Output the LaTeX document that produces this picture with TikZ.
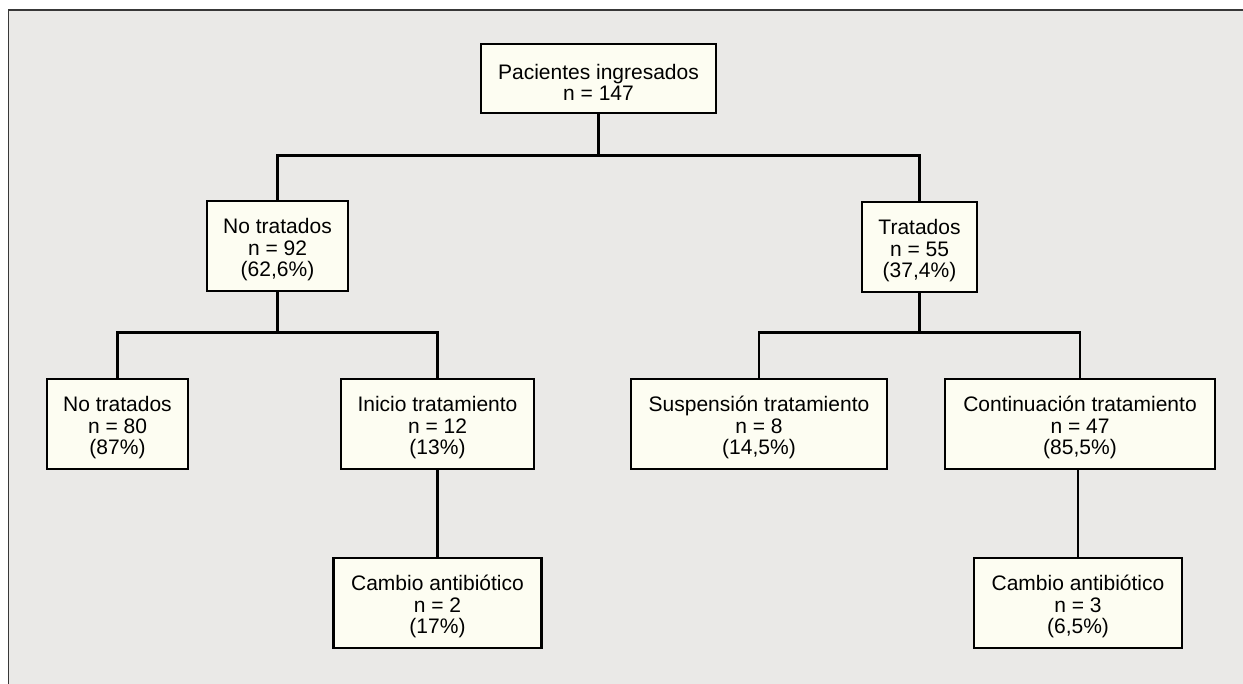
\documentclass[tikz,border=0pt]{standalone}
\usepackage{fontspec}
\setmainfont{Liberation Sans}
\definecolor{bggray}{HTML}{EAE9E7}
\definecolor{boxfill}{HTML}{FDFDF2}
\definecolor{framecol}{HTML}{383838}
\newcommand{\tallstrut}{\rule{0pt}{23pt}}
\begin{document}
\begin{tikzpicture}[x=1pt,y=1pt,
  box/.style={draw=black, line width=2.3pt, fill=boxfill, align=center, inner sep=0pt,
    minimum height=90pt, font=\fontsize{21pt}{21.5pt}\selectfont},
  conn/.style={draw=black, line width=2.1pt}]
\useasboundingbox (0,0) rectangle (1243,684);
\fill[bggray] (8.5,0) rectangle (1243,674);
\draw[framecol, line width=1.8pt] (8.5,0) -- (8.5,674) -- (1243,674);
% nodes
\node[box, minimum width=235pt, minimum height=69pt] (top) at (598.5,605.5) {\tallstrut Pacientes ingresados\\n = 147};
\node[box, minimum width=141pt] (nt1) at (277.5,438) {\tallstrut No tratados\\n = 92\\(62,6\%)};
\node[box, minimum width=115pt] (t1) at (919.5,437) {\tallstrut Tratados\\n = 55\\(37,4\%)};
\node[box, minimum width=141pt] (nt2) at (117.5,260) {\tallstrut No tratados\\n = 80\\(87\%)};
\node[box, minimum width=193pt] (ini) at (437.5,260) {\tallstrut Inicio tratamiento\\n = 12\\(13\%)};
\node[box, minimum width=256pt] (sus) at (759,260) {\tallstrut Suspensión tratamiento\\n = 8\\(14,5\%)};
\node[box, minimum width=270pt] (con) at (1080,260) {\tallstrut Continuación tratamiento\\n = 47\\(85,5\%)};
\node[box, minimum width=208pt] (cam1) at (437.5,81) {\tallstrut Cambio antibiótico\\n = 2\\(17\%)};
\node[box, minimum width=208pt] (cam2) at (1078,81) {\tallstrut Cambio antibiótico\\n = 3\\(6,5\%)};
% junctions
\coordinate (b0) at (598.5,528.5);
\coordinate (b1) at (277.5,351.5);
\coordinate (b2) at (919.5,351.5);
% connectors
\draw[conn] (top.south) -- (b0);
\draw[conn] (nt1.north) |- (b0) -| (t1.north);
\draw[conn] (nt1.south) -- (b1);
\draw[conn] (nt2.north) |- (b1) -| (ini.north);
\draw[conn] (t1.south) -- (b2);
\draw[conn] (sus.north) |- (b2) -| (con.north);
\draw[conn] (ini.south) -- (cam1.north);
\draw[conn] (con.south -| cam2.north) -- (cam2.north);
\end{tikzpicture}
\end{document}
